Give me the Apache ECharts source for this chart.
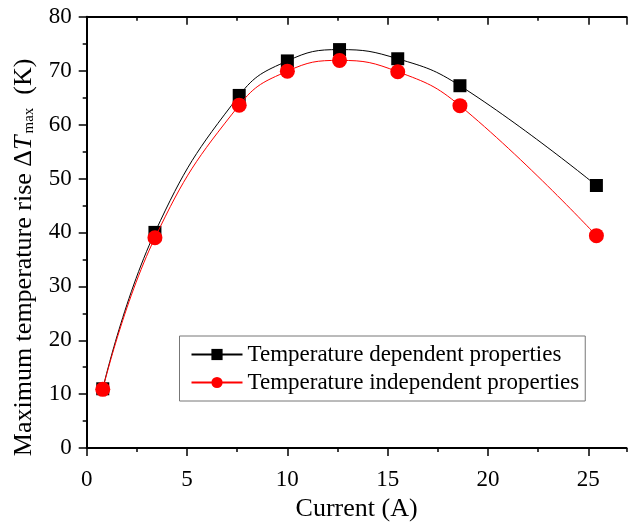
<!DOCTYPE html>
<html>
<head>
<meta charset="utf-8">
<script src="https://cdn.jsdelivr.net/npm/echarts@6/dist/echarts.min.js"></script>
<style>
  html, body { margin: 0; padding: 0; background: #fff; }
  #chart { width: 628px; height: 527px; }
</style>
</head>
<body>
<div id="chart"></div>
<script>
// Current values (A)
const current = [0.8, 3.4, 7.6, 10.0, 12.6, 15.5, 18.6, 25.4];
// Maximum temperature rise (K)
const dependent = [11.0, 40.0, 65.4, 71.8, 73.9, 72.2, 67.2, 48.7];
const independent = [10.9, 39.0, 63.6, 69.9, 71.9, 69.8, 63.5, 39.4];
const seriesNames = ['Temperature dependent properties', 'Temperature independent properties'];

const FONT = '"Liberation Serif", "Times New Roman", serif';
const X_MIN = 0, X_MAX = 26.9, Y_MIN = 0, Y_MAX = 80;

function pairs(xs, ys) { return xs.map((x, i) => [x, ys[i]]); }

function xAxisDef(pos, interval, len, inside, opts) {
  return Object.assign({
    type: 'value', position: pos, min: X_MIN, max: X_MAX, interval: interval,
    splitLine: { show: false },
    axisLine: { show: false },
    axisTick: { show: true, inside: inside, length: len, lineStyle: { color: '#000', width: 1.5 } },
    axisLabel: { show: false }
  }, opts || {});
}

const chart = echarts.init(document.getElementById('chart'), null, { renderer: 'canvas' });
chart.setOption({
  animation: false,
  backgroundColor: '#fff',
  textStyle: { fontFamily: FONT },
  grid: { left: 86.7, right: 1.5, top: 16.7, bottom: 69.3, containLabel: false },
  legend: {
    orient: 'vertical',
    left: 179.5, top: 336,
    padding: [7, 6, 7, 11],
    itemGap: 5,
    itemWidth: 51, itemHeight: 14,
    borderColor: '#777', borderWidth: 1,
    textStyle: { fontFamily: FONT, fontSize: 23, color: '#000' },
    data: seriesNames
  },
  xAxis: [
    xAxisDef('bottom', 5, 8, false, {
      name: 'Current (A)', nameLocation: 'middle', nameGap: 37,
      nameTextStyle: { fontFamily: FONT, fontSize: 26, color: '#000' },
      axisLine: { show: true, lineStyle: { color: '#000', width: 2 } },
      axisLabel: { show: true, margin: 20, fontFamily: FONT, fontSize: 23, color: '#000', showMaxLabel: false }
    }),
    xAxisDef('bottom', 2.5, 4, false),
    xAxisDef('top', 5, 8, true, { axisLine: { show: true, lineStyle: { color: '#000', width: 2 } } }),
    xAxisDef('top', 2.5, 4, true)
  ],
  yAxis: [
    {
      type: 'value', position: 'left', min: Y_MIN, max: Y_MAX, interval: 10,
      name: '{a|Maximum temperature rise Δ}{i|T}{s|max}{a|  (K)}',
      nameLocation: 'middle', nameRotate: 90, nameGap: 50,
      nameTextStyle: {
        fontFamily: FONT, fontSize: 26, color: '#000',
        padding: [0, 50, 0, 0],
        rich: {
          a: { fontFamily: FONT, fontSize: 26, color: '#000' },
          i: { fontFamily: FONT, fontSize: 26, fontStyle: 'italic', color: '#000' },
          s: { fontFamily: FONT, fontSize: 15, color: '#000', verticalAlign: 'bottom', padding: [10, 0, 0, 2] }
        }
      },
      splitLine: { show: false },
      axisLine: { show: true, lineStyle: { color: '#000', width: 2 } },
      axisTick: { show: true, inside: false, length: 8, lineStyle: { color: '#000', width: 1.5 } },
      minorTick: { show: true, splitNumber: 2, length: 4, lineStyle: { color: '#000', width: 1.5 } },
      axisLabel: { margin: 15, fontFamily: FONT, fontSize: 23, color: '#000' }
    },
    {
      type: 'value', position: 'right', min: Y_MIN, max: Y_MAX, interval: 10,
      splitLine: { show: false },
      axisLine: { show: true, lineStyle: { color: '#000', width: 1.5 } },
      axisTick: { show: true, inside: true, length: 8, lineStyle: { color: '#000', width: 1.5 } },
      minorTick: { show: true, splitNumber: 2, length: 4, lineStyle: { color: '#000', width: 1.5 } },
      axisLabel: { show: false }
    }
  ],
  series: [
    {
      name: seriesNames[0], type: 'line', xAxisIndex: 0, yAxisIndex: 0,
      data: pairs(current, dependent),
      smooth: 0.45,
      symbol: 'rect', symbolSize: 13,
      lineStyle: { color: '#000', width: 1 },
      itemStyle: { color: '#000' },
      z: 2
    },
    {
      name: seriesNames[1], type: 'line', xAxisIndex: 0, yAxisIndex: 0,
      data: pairs(current, independent),
      smooth: 0.45,
      symbol: 'circle', symbolSize: 15,
      lineStyle: { color: '#ff0000', width: 1 },
      itemStyle: { color: '#ff0000' },
      z: 3
    }
  ]
});
</script>
</body>
</html>
